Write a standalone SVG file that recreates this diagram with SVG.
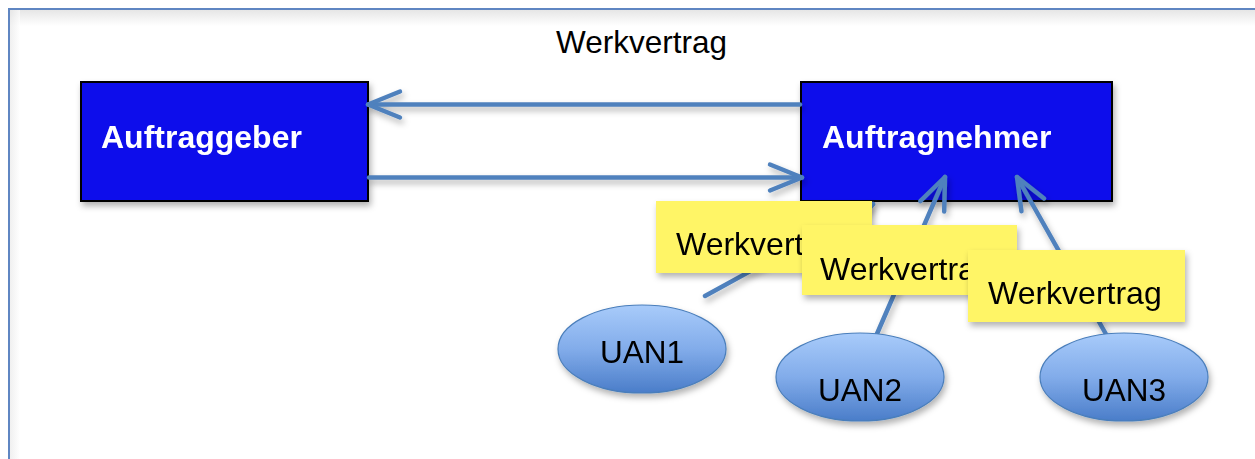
<svg xmlns="http://www.w3.org/2000/svg" width="1255" height="459" viewBox="0 0 1255 459">
  <defs>
    <style>
      .frame { fill: none; stroke: #5F86C2; stroke-width: 2; }
      .party { fill: #0B0BEB; stroke: #000000; stroke-width: 2; }
      .party-text { font-family: "Liberation Sans", Arial, sans-serif; font-weight: bold; font-size: 32px; fill: #FFFFFF; }
      .plain-text { font-family: "Liberation Sans", Arial, sans-serif; font-size: 31.5px; fill: #000000; }
      .note-text { font-family: "Liberation Sans", Arial, sans-serif; font-size: 32px; fill: #000000; }
      .note { fill: #FFF566; }
      .uan { fill: url(#uanGrad); stroke: #4A7EBB; stroke-width: 1.2; }
      .conn { fill: none; stroke: #4F81BD; stroke-width: 4.5; stroke-linecap: round; }
      .arrowhead { fill: none; stroke: #4F81BD; stroke-width: 4.5; stroke-linecap: round; stroke-linejoin: round; }
    </style>
    <linearGradient id="uanGrad" x1="0" y1="0" x2="0" y2="1">
      <stop offset="0" stop-color="#A8CBFA"/>
      <stop offset="0.5" stop-color="#82ACEA"/>
      <stop offset="1" stop-color="#4A7DC9"/>
    </linearGradient>
    <linearGradient id="topShade" x1="0" y1="0" x2="0" y2="1">
      <stop offset="0" stop-color="#E6E6E6"/>
      <stop offset="1" stop-color="#FFFFFF"/>
    </linearGradient>
    <linearGradient id="leftShade" x1="0" y1="0" x2="1" y2="0">
      <stop offset="0" stop-color="#E6E6E6"/>
      <stop offset="1" stop-color="#FFFFFF"/>
    </linearGradient>
    <filter id="shadow" x="-20%" y="-20%" width="140%" height="160%">
      <feDropShadow dx="2" dy="4" stdDeviation="3" flood-color="#000000" flood-opacity="0.3"/>
    </filter>
    <marker id="open-arrow" markerUnits="userSpaceOnUse" viewBox="-40 -20 46 40" refX="0" refY="0" markerWidth="46" markerHeight="40" orient="auto" overflow="visible">
      <path class="arrowhead" d="M -32 -13 L 0 0 L -32 13"/>
    </marker>
  </defs>

  <rect x="0" y="0" width="1255" height="459" fill="#FFFFFF"/>

  <g id="frame">
    <rect x="10" y="10" width="1250" height="16" fill="url(#topShade)"/>
    <rect x="10" y="10" width="10" height="455" fill="url(#leftShade)" opacity="0.6"/>
    <rect class="frame" x="9" y="9" width="1260" height="470"/>
    <text class="plain-text" x="556" y="53">Werkvertrag</text>
  </g>

  <g id="auftraggeber" filter="url(#shadow)">
    <rect class="party" x="81" y="82" width="287" height="119"/>
    <text class="party-text" x="101" y="148">Auftraggeber</text>
  </g>

  <g id="auftragnehmer" filter="url(#shadow)">
    <rect class="party" x="801" y="82" width="311" height="119"/>
    <text class="party-text" x="822" y="148">Auftragnehmer</text>
  </g>

  <g id="connectors" filter="url(#shadow)">
    <line class="conn" x1="800" y1="104.5" x2="368" y2="104.5" marker-end="url(#open-arrow)"/>
    <line class="conn" x1="369" y1="177.5" x2="802" y2="177.5" marker-end="url(#open-arrow)"/>
    <line class="conn" x1="705" y1="296" x2="873" y2="204" marker-end="url(#open-arrow)"/>
    <line class="conn" x1="873" y1="343" x2="945" y2="177" marker-end="url(#open-arrow)"/>
    <line class="conn" x1="1111" y1="343" x2="1017" y2="177" marker-end="url(#open-arrow)"/>
  </g>

  <g id="werkvertrag-1" filter="url(#shadow)">
    <rect class="note" x="656" y="201" width="216" height="72"/>
    <text class="note-text" x="676" y="255">Werkvertrag</text>
  </g>

  <g id="werkvertrag-2" filter="url(#shadow)">
    <rect class="note" x="802" y="225" width="215" height="70"/>
    <text class="note-text" x="820" y="280">Werkvertrag</text>
  </g>

  <g id="werkvertrag-3" filter="url(#shadow)">
    <rect class="note" x="968" y="250" width="217" height="72"/>
    <text class="note-text" x="988" y="304">Werkvertrag</text>
  </g>

  <g id="uan1" filter="url(#shadow)">
    <ellipse class="uan" cx="642" cy="349" rx="84" ry="44"/>
    <text class="plain-text" x="642" y="363" text-anchor="middle">UAN1</text>
  </g>

  <g id="uan2" filter="url(#shadow)">
    <ellipse class="uan" cx="860" cy="377" rx="84" ry="44"/>
    <text class="plain-text" x="860" y="401" text-anchor="middle">UAN2</text>
  </g>

  <g id="uan3" filter="url(#shadow)">
    <ellipse class="uan" cx="1124" cy="377" rx="84" ry="44"/>
    <text class="plain-text" x="1124" y="401" text-anchor="middle">UAN3</text>
  </g>
</svg>
